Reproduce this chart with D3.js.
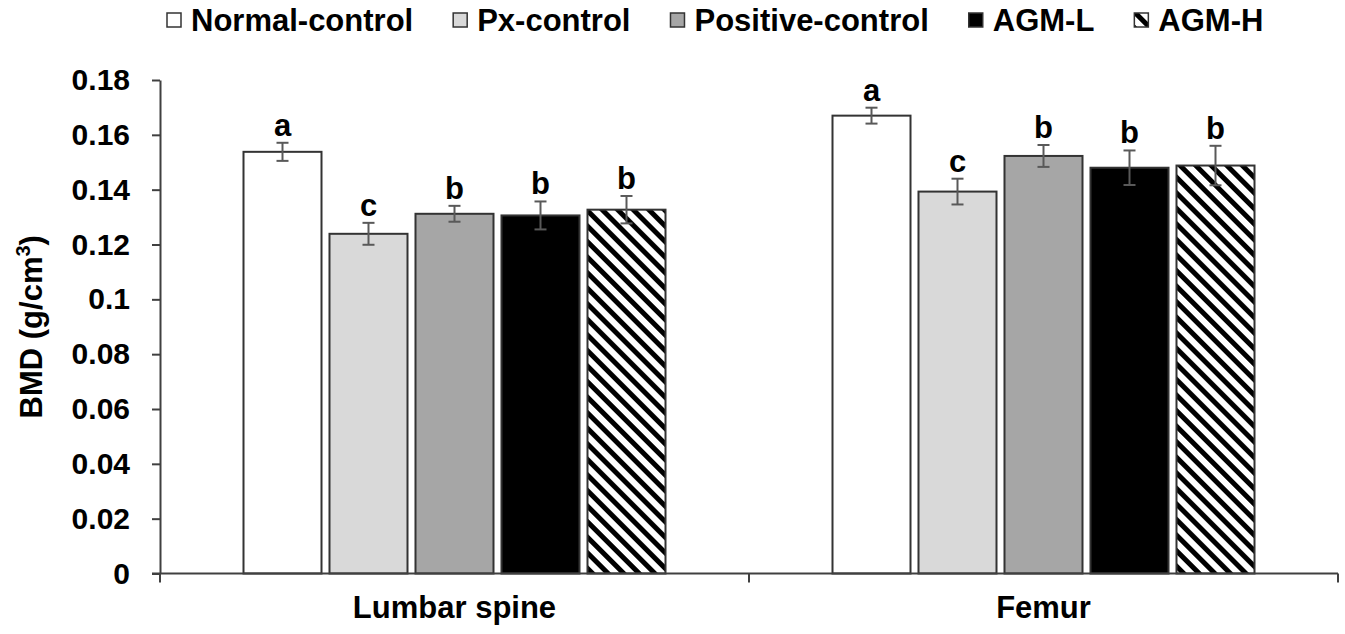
<!DOCTYPE html>
<html>
<head>
<meta charset="utf-8">
<script src="https://cdn.jsdelivr.net/npm/d3@7/dist/d3.min.js"></script>
<style>
  html, body { margin: 0; padding: 0; background: #fff; }
  svg { display: block; font-family: "Liberation Sans", Arial, sans-serif; }
</style>
</head>
<body>
<svg id="chart" width="1345" height="634"></svg>
<script>
// Bone mineral density by site and treatment group
const sites = ["Lumbar spine", "Femur"];
const groups = ["Normal-control", "Px-control", "Positive-control", "AGM-L", "AGM-H"];
const lumbarMeans = [0.1538, 0.1239, 0.1312, 0.1306, 0.1327];
const lumbarErrors = [0.0033, 0.0040, 0.0029, 0.0051, 0.0050];
const lumbarLetters = ["a", "c", "b", "b", "b"];
const femurMeans = [0.1670, 0.1393, 0.1523, 0.1480, 0.1488];
const femurErrors = [0.0029, 0.0047, 0.0040, 0.0063, 0.0072];
const femurLetters = ["a", "c", "b", "b", "b"];
const yTickValues = [0, 0.02, 0.04, 0.06, 0.08, 0.1, 0.12, 0.14, 0.16, 0.18];
const yTickLabels = ["0", "0.02", "0.04", "0.06", "0.08", "0.1", "0.12", "0.14", "0.16", "0.18"];

const rows = [
  { site: sites[0], means: lumbarMeans, errors: lumbarErrors, letters: lumbarLetters },
  { site: sites[1], means: femurMeans, errors: femurErrors, letters: femurLetters }
];
const bars = rows.flatMap(r => groups.map((g, i) => ({
  site: r.site, group: g, value: r.means[i], err: r.errors[i], letter: r.letters[i]
})));

const svg = d3.select("#chart");
const plotLeft = 160, plotRight = 1338, plotTop = 80, plotBottom = 573.5;

const x0 = d3.scaleBand().domain(sites).range([plotLeft, plotRight]).padding(0);
const groupWidth = 422;
const x1 = d3.scaleBand().domain(groups).range([-groupWidth / 2, groupWidth / 2])
  .paddingInner(0.093).paddingOuter(0);
const y = d3.scaleLinear().domain([0, 0.18]).range([plotBottom, plotTop]);

// Fills: white, light grey, mid grey, black, diagonal hatch
const defs = svg.append("defs");
const pat = defs.append("pattern")
  .attr("id", "hatch")
  .attr("patternUnits", "userSpaceOnUse")
  .attr("width", 11).attr("height", 11)
  .attr("patternTransform", "rotate(-45)");
pat.append("rect").attr("width", 11).attr("height", 11).attr("fill", "#fff");
pat.append("rect").attr("x", 0).attr("y", 0).attr("width", 5).attr("height", 11).attr("fill", "#000");

const fills = d3.scaleOrdinal().domain(groups)
  .range(["#ffffff", "#d9d9d9", "#a6a6a6", "#000000", "url(#hatch)"]);

const cx = d => x0(d.site) + x0.bandwidth() / 2 + x1(d.group);

// Bars
svg.append("g").selectAll("rect").data(bars).join("rect")
  .attr("x", d => cx(d))
  .attr("y", d => y(d.value))
  .attr("width", x1.bandwidth())
  .attr("height", d => y(0) - y(d.value))
  .attr("fill", d => fills(d.group))
  .attr("stroke", "#333")
  .attr("stroke-width", 2);

// Error bars
const eb = svg.append("g").attr("stroke", "#595959").attr("stroke-width", 2);
bars.forEach(d => {
  const mx = cx(d) + x1.bandwidth() / 2;
  eb.append("line").attr("x1", mx).attr("x2", mx)
    .attr("y1", y(d.value + d.err)).attr("y2", y(d.value - d.err));
  [d.value + d.err, d.value - d.err].forEach(v => {
    eb.append("line").attr("x1", mx - 6).attr("x2", mx + 6)
      .attr("y1", y(v)).attr("y2", y(v));
  });
});

// Significance letters
svg.append("g").selectAll("text").data(bars).join("text")
  .attr("x", d => cx(d) + x1.bandwidth() / 2)
  .attr("y", d => y(d.value + d.err) - 7)
  .attr("text-anchor", "middle")
  .attr("font-size", 31).attr("font-weight", "bold")
  .attr("fill", "#000")
  .text(d => d.letter);

// Y axis
const yAxis = d3.axisLeft(y)
  .tickValues(yTickValues)
  .tickFormat((d, i) => yTickLabels[i])
  .tickSize(8).tickSizeOuter(0).tickPadding(22);
const gy = svg.append("g").attr("transform", `translate(${plotLeft},0)`).call(yAxis);
gy.select(".domain").attr("stroke", "#404040").attr("stroke-width", 2);
gy.selectAll(".tick line").attr("stroke", "#404040").attr("stroke-width", 2);
gy.selectAll(".tick text").attr("font-size", 30).attr("font-weight", "bold")
  .attr("fill", "#000").attr("font-family", "'Liberation Sans', Arial, sans-serif");

// X axis with category separators
const gx = svg.append("g");
gx.append("line").attr("x1", plotLeft - 8).attr("x2", plotRight)
  .attr("y1", y(0)).attr("y2", y(0))
  .attr("stroke", "#404040").attr("stroke-width", 2);
const edges = [x0.range()[0], ...sites.map(s => x0(s) + x0.bandwidth())];
gx.selectAll("line.sep").data(edges).join("line").attr("class", "sep")
  .attr("x1", d => d).attr("x2", d => d)
  .attr("y1", y(0)).attr("y2", y(0) + 9)
  .attr("stroke", "#404040").attr("stroke-width", 2);
gx.selectAll("text").data(sites).join("text")
  .attr("x", d => x0(d) + x0.bandwidth() / 2)
  .attr("y", 618)
  .attr("text-anchor", "middle")
  .attr("font-size", 31).attr("font-weight", "bold")
  .text(d => d);

// Y axis title
const yt = svg.append("text")
  .attr("transform", `translate(42,${(plotTop + plotBottom) / 2}) rotate(-90)`)
  .attr("text-anchor", "middle")
  .attr("font-size", 31).attr("font-weight", "bold");
yt.append("tspan").text("BMD (g/cm");
yt.append("tspan").attr("font-size", 20).attr("dy", -12).text("3");
yt.append("tspan").attr("dy", 12).text(")");

// Legend laid out left to right
const legend = svg.append("g");
let lx = 167;
groups.forEach(g => {
  const item = legend.append("g").attr("transform", `translate(${lx},0)`);
  item.append("rect").attr("x", 0).attr("y", 13).attr("width", 14).attr("height", 14)
    .attr("fill", fills(g)).attr("stroke", "#333").attr("stroke-width", 1.5);
  const t = item.append("text").attr("x", 24).attr("y", 31)
    .attr("font-size", 31).attr("font-weight", "bold").text(g);
  lx += 24 + t.node().getComputedTextLength() + 40;
});
</script>
</body>
</html>
